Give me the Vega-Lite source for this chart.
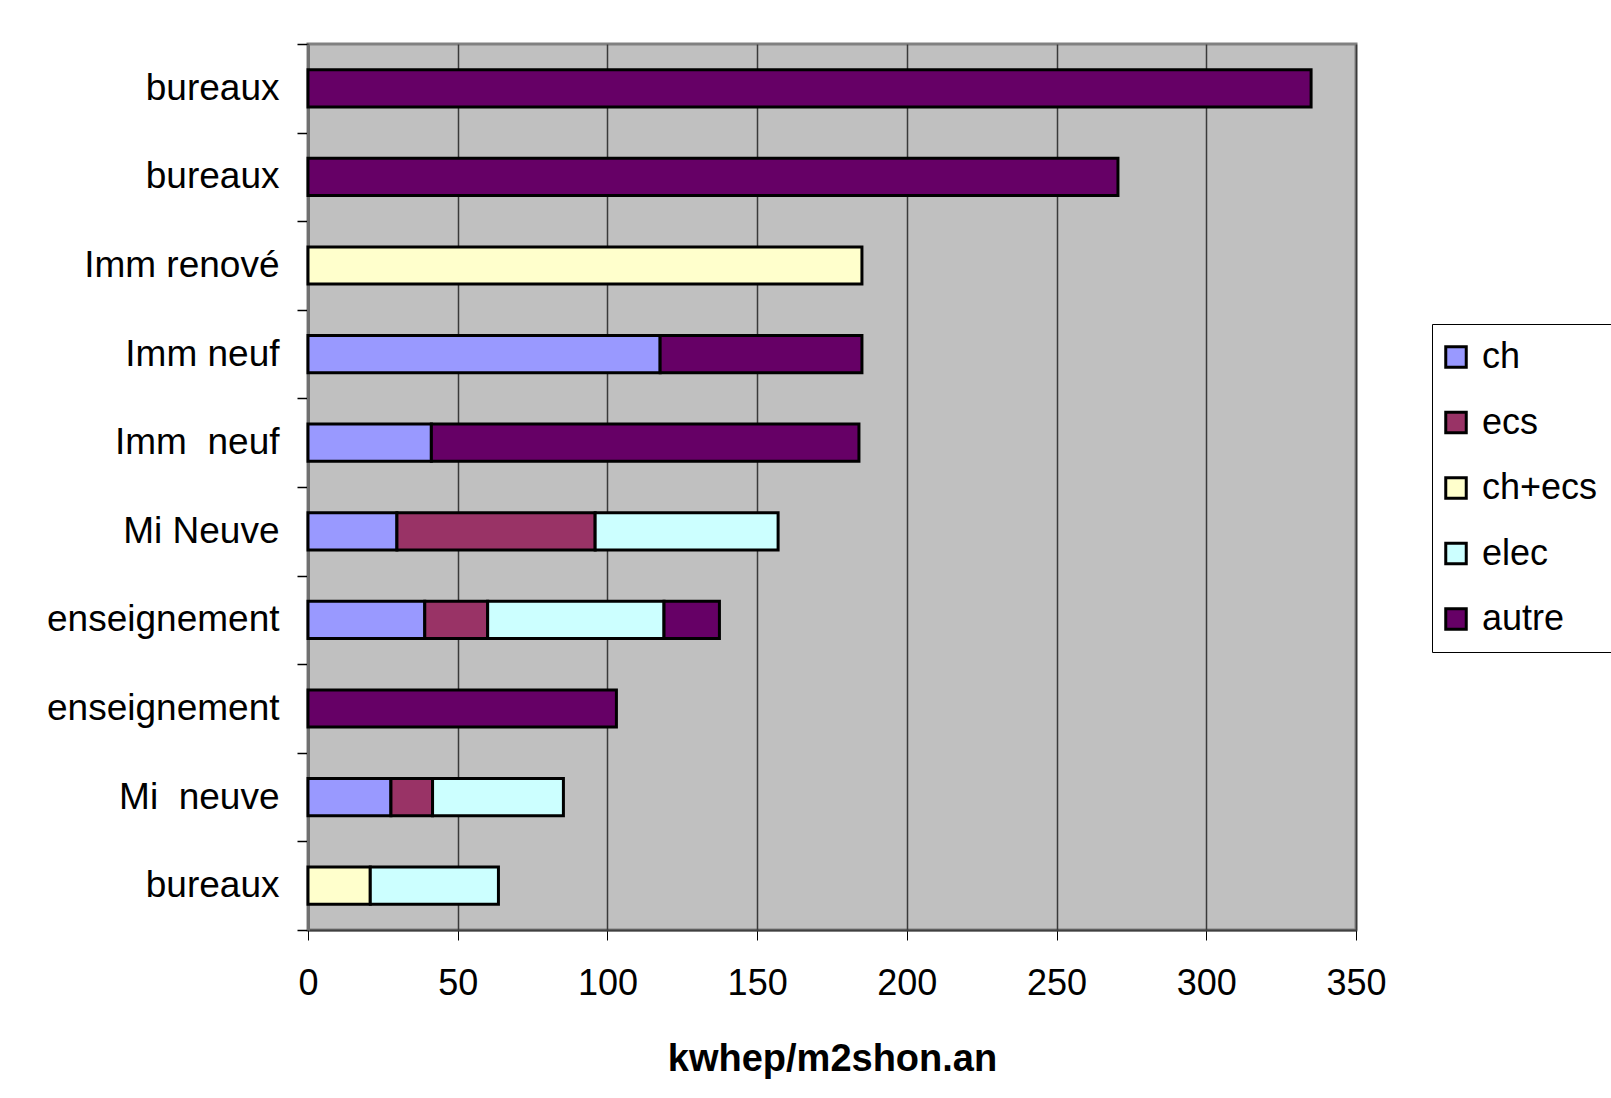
{
  "$schema": "https://vega.github.io/schema/vega-lite/v6.json",
  "width": 1048,
  "height": 886,
  "autosize": "none",
  "padding": {"left": 308, "top": 44, "right": 255, "bottom": 168},
  "background": "white",
  "config": {
    "font": "Liberation Sans",
    "view": {"fill": "#C0C0C0", "stroke": "#808080", "strokeWidth": 3}
  },
  "data": {
    "values": [
      {"cat": "bureaux|1", "s": "autre", "v": 335},
      {"cat": "bureaux|2", "s": "autre", "v": 270.5},
      {"cat": "Imm renové|3", "s": "ch+ecs", "v": 185},
      {"cat": "Imm neuf|4", "s": "ch", "v": 117.6},
      {"cat": "Imm neuf|4", "s": "autre", "v": 67.4},
      {"cat": "Imm\u00a0 neuf|5", "s": "ch", "v": 41.2},
      {"cat": "Imm\u00a0 neuf|5", "s": "autre", "v": 142.8},
      {"cat": "Mi Neuve|6", "s": "ch", "v": 29.7},
      {"cat": "Mi Neuve|6", "s": "ecs", "v": 66.2},
      {"cat": "Mi Neuve|6", "s": "elec", "v": 61.1},
      {"cat": "enseignement|7", "s": "ch", "v": 39},
      {"cat": "enseignement|7", "s": "ecs", "v": 21},
      {"cat": "enseignement|7", "s": "elec", "v": 58.9},
      {"cat": "enseignement|7", "s": "autre", "v": 18.5},
      {"cat": "enseignement|8", "s": "autre", "v": 103},
      {"cat": "Mi\u00a0 neuve|9", "s": "ch", "v": 27.7},
      {"cat": "Mi\u00a0 neuve|9", "s": "ecs", "v": 13.9},
      {"cat": "Mi\u00a0 neuve|9", "s": "elec", "v": 43.7},
      {"cat": "bureaux|10", "s": "ch+ecs", "v": 20.8},
      {"cat": "bureaux|10", "s": "elec", "v": 42.8}
    ]
  },
  "transform": [
    {"calculate": "indexof(['ch','ecs','ch+ecs','elec','autre'], datum.s)", "as": "k"}
  ],
  "mark": {"type": "bar", "stroke": "black", "strokeWidth": 3, "height": {"band": 0.42}},
  "encoding": {
    "y": {
      "field": "cat",
      "type": "nominal",
      "sort": null,
      "scale": {
        "domain": ["bureaux|1", "bureaux|2", "Imm renové|3", "Imm neuf|4", "Imm\u00a0 neuf|5", "Mi Neuve|6", "enseignement|7", "enseignement|8", "Mi\u00a0 neuve|9", "bureaux|10"],
        "paddingInner": 0,
        "paddingOuter": 0
      },
      "axis": {
        "title": null,
        "labelExpr": "isString(datum.value) ? split(datum.value, '|')[0] : ''",
        "labelFontSize": 37,
        "labelColor": "black",
        "labelPadding": 18,
        "labelLimit": 500,
        "tickBand": "extent",
        "tickSize": 11,
        "tickColor": "black",
        "tickWidth": 1.5,
        "domainColor": "#707070",
        "domainWidth": 3,
        "grid": false
      }
    },
    "x": {
      "field": "v",
      "type": "quantitative",
      "stack": "zero",
      "scale": {"domain": [0, 350], "nice": false},
      "axis": {
        "title": "kwhep/m2shon.an",
        "titleFontSize": 38,
        "titleFontWeight": "bold",
        "titleColor": "black",
        "titlePadding": 39,
        "values": [0, 50, 100, 150, 200, 250, 300, 350],
        "labelFontSize": 36,
        "labelColor": "black",
        "labelPadding": 26,
        "labelFlush": false,
        "tickSize": 10,
        "tickColor": "black",
        "tickWidth": 1,
        "domainColor": "#404040",
        "domainWidth": 2,
        "grid": true,
        "gridColor": "#3a3a3a",
        "gridWidth": 1.5
      }
    },
    "color": {
      "field": "s",
      "type": "nominal",
      "scale": {
        "domain": ["ch", "ecs", "ch+ecs", "elec", "autre"],
        "range": ["#9999FF", "#993366", "#FFFFCC", "#CCFFFF", "#660066"]
      },
      "legend": {
        "title": null,
        "orient": "none",
        "legendX": 1124,
        "legendY": 280,
        "padding": 15,
        "strokeColor": "black",
        "fillColor": "white",
        "symbolType": "square",
        "symbolSize": 420,
        "symbolOffset": -9,
        "symbolStrokeColor": "black",
        "symbolStrokeWidth": 3,
        "symbolOpacity": 1,
        "labelFontSize": 36,
        "labelColor": "black",
        "labelOffset": 8,
        "rowPadding": 29.5
      }
    },
    "order": {"field": "k", "type": "quantitative"}
  }
}
